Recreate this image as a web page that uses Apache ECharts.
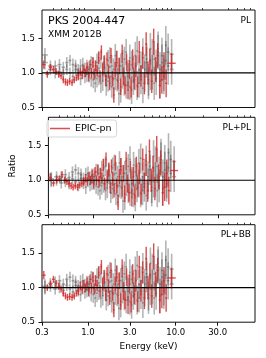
<!DOCTYPE html>
<html><head><meta charset="utf-8">
<script src="https://cdn.jsdelivr.net/npm/echarts@6/dist/echarts.min.js"></script>
<style>html,body{margin:0;padding:0;background:#fff}#c{width:266px;height:358px}</style>
</head><body><div id="c"></div>
<script>
// ---- data (keV bin edges, ratios, 1-sigma errors) ----
const pnEdges = [0.30,0.33,0.36,0.39,0.42,0.45,0.48,0.51,0.54,0.57,0.60,0.64,0.68,0.72,0.76,0.80,0.84,0.88,0.92,0.96,
  1.00,1.04,1.08,1.12,1.16,1.20,1.25,1.30,1.35,1.40,1.45,1.50,1.56,1.62,1.68,1.74,1.80,1.87,1.94,2.01,
  2.08,2.16,2.24,2.32,2.41,2.50,2.60,2.70,2.81,2.92,3.04,3.17,3.30,3.45,3.60,3.76,3.93,4.11,4.30,4.50,
  4.72,4.95,5.20,5.47,5.76,6.07,6.40,6.76,7.15,7.57,8.00,10.0];
const pnLowPL   = [1.12,0.98,1.08,1.05,1.02,0.98,0.96,0.90,0.87,0.86,0.88,0.86,0.90,0.93,0.96,1.02,0.97,1.05,1.00,1.08];
const pnLowPLPL = [1.04,0.96,1.00,1.02,1.08,1.00,0.98,0.95,0.92,0.90,0.92,0.90,0.93,0.95,0.98,1.03,0.98,1.06,1.00,1.08];
const pnLowPLBB = [1.18,1.00,1.05,1.12,1.06,1.02,0.98,0.92,0.88,0.86,0.87,0.86,0.88,0.92,0.95,1.02,0.97,1.05,1.00,1.08];
const pnHigh = [0.95,1.12,1.00,1.15,0.98,1.10,1.03,1.22,0.95,1.30,
  1.05,1.15,0.90,1.20,1.02,0.85,1.25,0.92,0.68,1.05,
  1.20,0.88,1.10,0.80,1.28,0.95,0.82,1.15,0.75,1.05,
  0.78,1.20,0.90,1.10,0.80,1.30,0.95,1.22,0.85,1.42,
  1.00,1.18,0.88,1.45,1.05,1.25,0.82,0.90,1.10,0.85,1.14];
const pnErr = [0.06,0.05,0.05,0.05,0.05,0.05,0.05,0.05,0.05,0.05,0.05,0.05,0.05,0.05,0.06,0.06,0.06,0.06,0.06,0.07,
  0.07,0.07,0.07,0.08,0.08,0.08,0.08,0.09,0.09,0.10,0.09,0.10,0.09,0.10,0.10,0.10,0.11,0.11,0.11,0.11,
  0.12,0.12,0.12,0.12,0.13,0.13,0.13,0.13,0.13,0.14,0.14,0.14,0.14,0.15,0.15,0.16,0.15,0.16,0.16,0.17,
  0.17,0.17,0.17,0.19,0.18,0.18,0.19,0.20,0.20,0.20,0.15];

const mosEdges = [0.30,0.35,0.40,0.45,0.50,0.55,0.60,0.65,0.70,0.75,0.80,0.85,0.90,0.95,
  1.00,1.06,1.12,1.18,1.24,1.30,1.37,1.44,1.51,1.58,1.66,1.74,1.82,1.91,2.00,2.10,2.20,2.31,2.42,2.54,
  2.66,2.79,2.93,3.07,3.22,3.38,3.55,3.73,3.92,4.12,4.33,4.55,4.78,5.02,5.28,5.55,5.84,6.14,6.46,6.80,
  7.15,7.52,7.91,8.50,9.50];
const mos1LowPL   = [1.26,1.05,1.10,1.02,1.08,1.15,1.00,1.12,1.05,0.98,1.10,1.02,0.95,1.08];
const mos2LowPL   = [1.15,1.10,1.00,1.12,0.98,1.05,1.18,0.95,1.10,1.04,0.92,1.12,1.05,0.98];
const mos1LowPLPL = [1.02,1.00,1.05,0.98,1.04,1.12,0.98,1.10,1.03,0.96,1.08,1.00,0.94,1.06];
const mos2LowPLPL = [1.00,1.05,0.96,1.08,0.95,1.02,1.15,0.93,1.08,1.02,0.90,1.10,1.03,0.97];
const mos1LowPLBB = [1.00,1.02,1.08,1.00,1.05,1.12,0.98,1.10,1.03,0.96,1.08,1.00,0.94,1.06];
const mos2LowPLBB = [1.02,1.06,0.98,1.10,0.96,1.03,1.15,0.94,1.08,1.02,0.90,1.10,1.03,0.97];
const mos1High = [1.05,0.92,1.10,0.85,1.15,0.95,1.20,0.88,1.08,0.82,
  1.18,0.95,1.10,0.78,1.25,0.90,1.05,0.75,1.15,0.85,
  1.30,0.95,0.80,1.12,0.88,1.25,0.82,1.05,0.90,1.28,
  0.95,1.15,0.85,1.35,1.00,1.20,0.92,1.30,1.05,1.25,
  0.95,1.40,1.10,1.27];
const mos2High = [0.98,1.12,0.90,1.05,0.92,1.18,0.85,1.02,1.12,0.95,
  0.88,1.22,0.80,1.05,0.92,1.15,0.70,1.10,0.95,1.20,
  0.82,1.00,1.22,0.75,1.05,0.95,1.32,0.85,1.10,0.78,
  1.05,1.20,0.90,0.98,1.25,0.85,1.10,1.35,0.88,1.15,
  1.00,1.18,1.30,1.05];
const mosErr = [0.10,0.08,0.08,0.08,0.08,0.08,0.08,0.09,0.09,0.09,0.10,0.10,0.10,0.11,
  0.12,0.12,0.12,0.13,0.13,0.13,0.14,0.14,0.14,0.15,0.15,0.15,0.16,0.16,0.17,0.17,0.17,0.18,0.18,0.18,
  0.19,0.19,0.19,0.20,0.20,0.20,0.21,0.21,0.21,0.22,0.22,0.22,0.23,0.23,0.24,0.24,0.24,0.25,0.25,0.26,
  0.26,0.28,0.27,0.22];

const panelLabels = ['PL','PL+PL','PL+BB'];
const xTickValues = [0.3,1,3,10,30];
const xMinorTicks = [0.4,0.5,0.6,0.7,0.8,0.9,2,4,5,6,7,8,9,20,40,50,60,70];
const yTickValues = [0.5,1.0,1.5];

// ---- build ----
const FONT = 'DejaVu Sans';
const RED = 'rgba(214,39,40,0.82)';
const GREY = 'rgba(60,60,60,0.38)';
const panels = [
  {pn: pnLowPL.concat(pnHigh),   m1: mos1LowPL.concat(mos1High),   m2: mos2LowPL.concat(mos2High)},
  {pn: pnLowPLPL.concat(pnHigh), m1: mos1LowPLPL.concat(mos1High), m2: mos2LowPLPL.concat(mos2High)},
  {pn: pnLowPLBB.concat(pnHigh), m1: mos1LowPLBB.concat(mos1High), m2: mos2LowPLBB.concat(mos2High)}
];
function rows(edges, vals, errs){
  return vals.map((v,i)=>[edges[i], edges[i+1], v, errs[i]]);
}
function errRender(color, w){
  return function(params, api){
    const lo=api.value(0), hi=api.value(1), r=api.value(2), e=api.value(3);
    const mid=Math.sqrt(lo*hi);
    const a=api.coord([lo,r]), b=api.coord([hi,r]);
    const c=api.coord([mid,r+e]), d=api.coord([mid,r-e]);
    return {type:'group', children:[
      {type:'line', shape:{x1:a[0],y1:a[1],x2:b[0],y2:b[1]}, style:{stroke:color,lineWidth:w}},
      {type:'line', shape:{x1:c[0],y1:c[1],x2:d[0],y2:d[1]}, style:{stroke:color,lineWidth:w}}
    ]};
  };
}
const tops=[10,117.3,224.7];
const grid=[], xAxis=[], yAxis=[], series=[];
panels.forEach((p,i)=>{
  grid.push({left:42, right:11, top:tops[i], height:97.5, show:true, borderColor:'#111', borderWidth:1, backgroundColor:'transparent'});
  xAxis.push({type:'log', logBase:10, gridIndex:i, min:0.3, max:80,
    axisLine:{show:false}, splitLine:{show:false},
    axisTick:{show:true, customValues:xTickValues, length:3.5, lineStyle:{color:'#111',width:1}},
    axisLabel:{show:i===2, customValues:xTickValues, formatter:v=>Number(v).toFixed(1), margin:6,
      fontFamily:FONT, fontSize:8.5, color:'#000', hideOverlap:false},
    name: i===2?'Energy (keV)':'', nameLocation:'middle', nameGap:20,
    nameTextStyle:{fontFamily:FONT, fontSize:9, color:'#000'}
  });
  xAxis.push({type:'log', logBase:10, gridIndex:i, min:0.3, max:80,
    axisLine:{show:false}, splitLine:{show:false},
    axisTick:{show:true, customValues:xMinorTicks, length:2, lineStyle:{color:'#111',width:0.8}},
    axisLabel:{show:false}
  });
  yAxis.push({type:'value', gridIndex:i, min:0.5, max:1.91,
    axisLine:{show:false}, splitLine:{show:false},
    axisTick:{show:true, customValues:yTickValues, length:3.5, lineStyle:{color:'#111',width:1}},
    axisLabel:{customValues:yTickValues, formatter:v=>Number(v).toFixed(1), margin:7,
      fontFamily:FONT, fontSize:8.5, color:'#000'},
    name: i===1?'Ratio':'', nameLocation:'middle', nameGap:27, nameRotate:90,
    nameTextStyle:{fontFamily:FONT, fontSize:9, color:'#000'}
  });
  const xi=2*i;
  series.push({type:'custom', name:'MOS1', xAxisIndex:xi, yAxisIndex:i, renderItem:errRender(GREY,1.6),
    itemStyle:{color:GREY}, encode:{x:0,y:2}, data:rows(mosEdges,p.m1,mosErr), silent:true, z:2});
  series.push({type:'custom', name:'MOS2', xAxisIndex:xi, yAxisIndex:i, renderItem:errRender(GREY,1.6),
    itemStyle:{color:GREY}, encode:{x:0,y:2}, data:rows(mosEdges,p.m2,mosErr), silent:true, z:2});
  series.push({type:'custom', name: i===1?'EPIC-pn':'pn'+i, xAxisIndex:xi, yAxisIndex:i, renderItem:errRender(RED,1.4),
    itemStyle:{color:RED}, encode:{x:0,y:2}, data:rows(pnEdges,p.pn,pnErr), silent:true, z:3});
  series.push({type:'line', xAxisIndex:xi, yAxisIndex:i, data:[[0.3,1],[80,1]], symbol:'none',
    lineStyle:{color:'#000', width:1.2}, silent:true, z:5, animation:false});
});
const chart = echarts.init(document.getElementById('c'));
chart.setOption({
  animation:false,
  grid, xAxis, yAxis, series,
  legend:{data:[{name:'EPIC-pn', icon:'rect'}], left:47, top:120, itemWidth:20, itemHeight:1.5, itemGap:5,
    padding:[3,5,3,3], borderColor:'#d5d5d5', borderWidth:1, borderRadius:3, backgroundColor:'rgba(255,255,255,0.85)',
    selectedMode:false, textStyle:{fontFamily:FONT, fontSize:9.5, color:'#000', lineHeight:11}},
  graphic:[
    {type:'text', left:48, top:16, style:{text:'PKS 2004-447', font:'11px "DejaVu Sans"', fill:'#000'}},
    {type:'text', left:48, top:30.5, style:{text:'XMM 2012B', font:'9px "DejaVu Sans"', fill:'#000'}},
    {type:'text', right:15, top:16.5, style:{text:panelLabels[0], font:'9px "DejaVu Sans"', fill:'#000'}},
    {type:'text', right:15, top:123.5, style:{text:panelLabels[1], font:'9px "DejaVu Sans"', fill:'#000'}},
    {type:'text', right:15, top:230.5, style:{text:panelLabels[2], font:'9px "DejaVu Sans"', fill:'#000'}}
  ]
});
</script></body></html>
